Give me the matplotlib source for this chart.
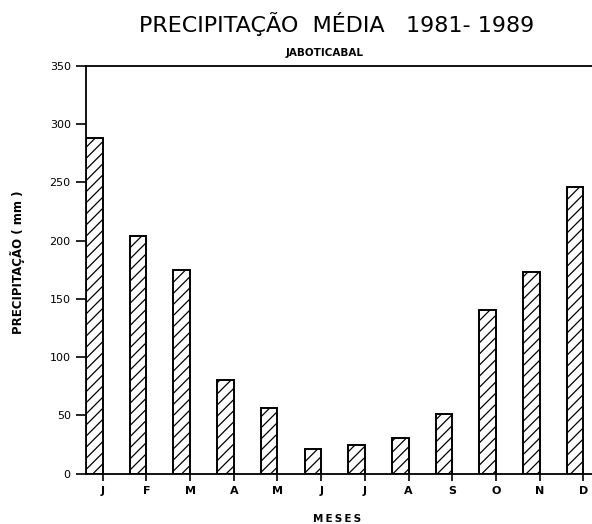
import numpy as np
import matplotlib.pyplot as plt

# Precipitacao media mensal (mm), Jaboticabal 1981-1989
meses = ['J', 'F', 'M', 'A', 'M', 'J', 'J', 'A', 'S', 'O', 'N', 'D']
precipitacao = [288, 204, 175, 80, 56, 21, 25, 31, 51, 140, 173, 246]

yticks = [0, 50, 100, 150, 200, 250, 300, 350]

plt.rcParams['font.family'] = ['DejaVu Sans']
plt.rcParams['hatch.linewidth'] = 0.9

fig = plt.figure(figsize=(5.92, 5.24), dpi=100)
ax = fig.add_axes([0.1453, 0.0960, 0.902, 0.7788])

x = np.arange(len(meses))
# barras encostadas à esquerda de cada marca do eixo
ax.bar(x, precipitacao, width=-0.38, align='edge',
       color='white', edgecolor='black', linewidth=1.4, hatch='///')

ax.set_xlim(-0.382, 11.84)
ax.set_ylim(0, 350)
ax.set_xticks(x)
ax.set_xticklabels(meses, fontsize=8, fontweight='bold')
ax.set_yticks(yticks)
ax.set_yticklabels([str(v) for v in yticks], fontsize=8)

ax.tick_params(axis='x', direction='out', length=5, width=1.2, pad=4)
ax.tick_params(axis='y', direction='out', length=7, width=1.2, pad=4)
for s in ax.spines.values():
    s.set_linewidth(1.3)

fig.text(0.568, 0.939, 'PRECIPITAÇÃO  MÉDIA   1981- 1989',
         ha='center', va='baseline', fontsize=16)
fig.text(0.549, 0.898, 'JABOTICABAL', ha='center', va='center',
         fontsize=7.5, fontweight='bold')
fig.text(0.030, 0.50, 'PRECIPITAÇÃO ( mm )', rotation=90,
         ha='center', va='center', fontsize=8.5, fontweight='bold')
fig.text(0.569, 0.010, 'M\u2009E\u2009S\u2009E\u2009S', ha='center',
         va='center', fontsize=7.5, fontweight='bold')

fig.savefig('out.png', dpi=100)
